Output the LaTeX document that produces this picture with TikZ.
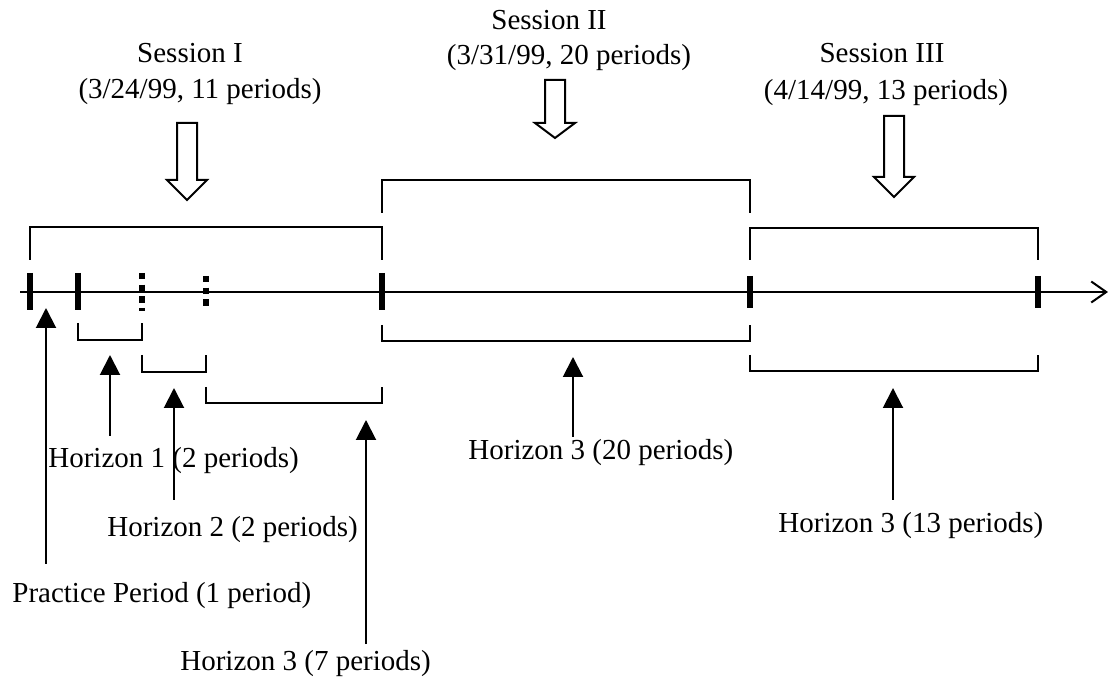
\documentclass[tikz,border=0pt]{standalone}
\usepackage{fontspec}
\setmainfont{Liberation Serif}
\usetikzlibrary{arrows.meta}

\begin{document}
\begin{tikzpicture}[x=0.5pt, y=-0.5pt, >={Triangle[length=10pt,width=10pt]},
  font=\fontsize{14.5}{17}\selectfont,
  axis/.style={line width=1pt},
  tick/.style={line width=2.8pt},
  dashtick/.style={line width=2.8pt, dash pattern=on 3.2pt off 2.6pt},
  brace/.style={line width=1pt},
  hollow/.style={line width=1pt, fill=white},
  pointer/.style={->, line width=1pt},
  lbl/.style={inner sep=0pt, anchor=base west}]
\useasboundingbox (0,0) rectangle (1108,683);
% time line with period marks
\draw [axis, -{Straight Barb[length=7.5pt,width=10.5pt]}] (20,292) -- (1108,292);
\draw [tick] (30,273) -- (30,310);
\draw [tick] (78,273) -- (78,310);
\draw [dashtick] (142,273) -- (142,311);
\draw [dashtick] (206,276) -- (206,307);
\draw [tick] (382,273) -- (382,310);
\draw [tick] (750,276) -- (750,308);
\draw [tick] (1038,276) -- (1038,308);
% session brackets above the line
\draw [brace] (30,260) -- (30,227) -- (382,227) -- (382,260);
\draw [brace] (382,213) -- (382,180) -- (750,180) -- (750,213);
\draw [brace] (750,260) -- (750,228) -- (1038,228) -- (1038,260);
% horizon brackets below the line
\draw [brace] (78,323) -- (78,340) -- (142,340) -- (142,323);
\draw [brace] (142,355) -- (142,372) -- (206,372) -- (206,355);
\draw [brace] (206,387) -- (206,403) -- (382,403) -- (382,387);
\draw [brace] (382,325) -- (382,341) -- (750,341) -- (750,325);
\draw [brace] (750,355) -- (750,371) -- (1038,371) -- (1038,355);
% session labels
\node (s1a) at (190,63) [anchor=base, inner sep=0pt] {Session I};
\node (s1b) at (200,99) [anchor=base, inner sep=0pt] {(3/24/99, 11 periods)};
\node (s2a) at (549,30) [anchor=base, inner sep=0pt] {Session II};
\node (s2b) at (569,65) [anchor=base, inner sep=0pt] {(3/31/99, 20 periods)};
\node (s3a) at (882,63) [anchor=base, inner sep=0pt] {Session III};
\node (s3b) at (886,100) [anchor=base, inner sep=0pt] {(4/14/99, 13 periods)};
% hollow arrows
\draw [hollow] (177,123) -- (197,123) -- (197,180) -- (207,180) -- (187,200)
  -- (167,180) -- (177,180) -- cycle;
\draw [hollow] (545,80) -- (565,80) -- (565,123) -- (575,123) -- (555,138)
  -- (535,123) -- (545,123) -- cycle;
\draw [hollow] (884,116) -- (904,116) -- (904,177) -- (914,177) -- (894,197)
  -- (874,177) -- (884,177) -- cycle;
% horizon labels
\node (pp) at (12,603) [lbl] {Practice Period (1 period)};
\node (h1) at (48,468) [lbl] {Horizon 1 (2 periods)};
\node (h2) at (107,537) [lbl] {Horizon 2 (2 periods)};
\node (h3a) at (180,670) [lbl] {Horizon 3 (7 periods)};
\node (h3b) at (468,460) [lbl] {Horizon 3 (20 periods)};
\node (h3c) at (778,533) [lbl] {Horizon 3 (13 periods)};
% pointer ends
\coordinate (ppfoot) at (46,564);   \coordinate (pptip) at (46,308);
\coordinate (h1foot) at (110,436);  \coordinate (h1tip) at (110,355);
\coordinate (h2foot) at (174,500);  \coordinate (h2tip) at (174,388);
\coordinate (h3afoot) at (366,644); \coordinate (h3atip) at (366,420);
\coordinate (h3bfoot) at (573,437); \coordinate (h3btip) at (573,357);
\coordinate (h3cfoot) at (893,500); \coordinate (h3ctip) at (893,388);
\draw [pointer] (ppfoot) -- (pptip);
\draw [pointer] (h1foot) -- (h1tip);
\draw [pointer] (h2foot) -- (h2tip);
\draw [pointer] (h3afoot) -- (h3atip);
\draw [pointer] (h3bfoot) -- (h3btip);
\draw [pointer] (h3cfoot) -- (h3ctip);
\end{tikzpicture}
\end{document}
